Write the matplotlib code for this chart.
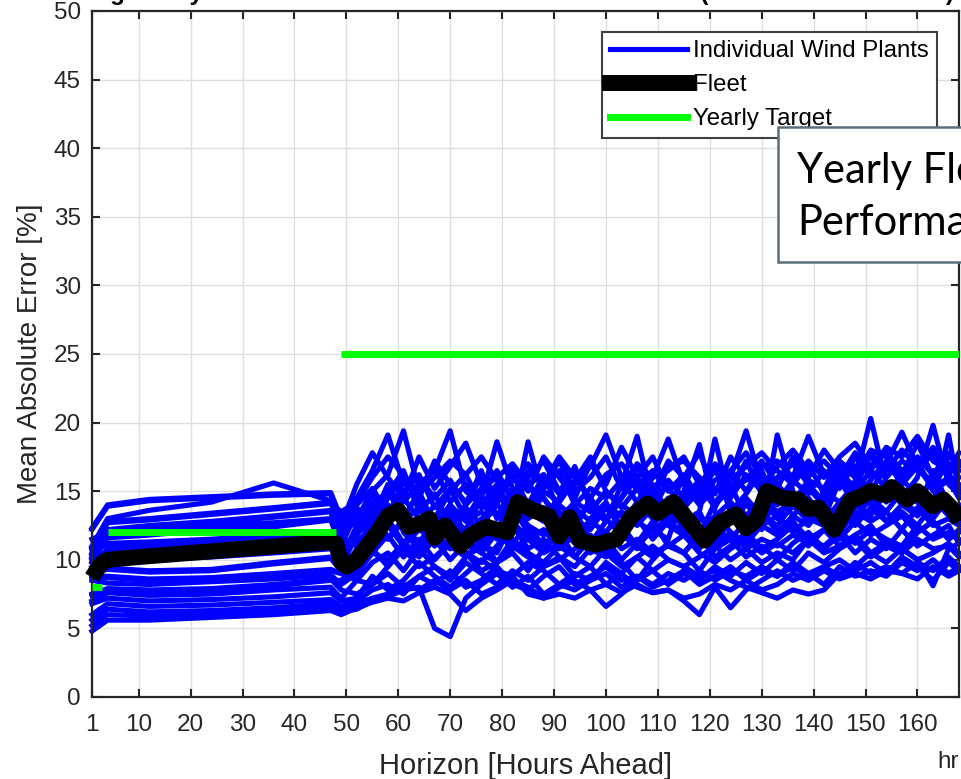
import matplotlib
matplotlib.use("Agg")
import matplotlib.pyplot as plt
from matplotlib.lines import Line2D
from matplotlib.patches import Rectangle

plt.rcParams['font.family'] = ['Liberation Sans', 'DejaVu Sans']

# forecast horizons (hours ahead) at which the plant curves were read
hours = [1, 4, 12, 24, 36, 47, 49, 52, 55, 58, 61, 64, 67, 70, 73, 76, 79, 82,
         85, 88, 91, 94, 97, 100, 103, 106, 109, 112, 115, 118, 121, 124, 127,
         130, 133, 136, 139, 142, 145, 148, 151, 154, 157, 160, 163, 166, 168]

# mean absolute error [%] per individual wind plant
plant_01 = [12.3, 14.0, 14.4, 14.6, 14.8, 14.9,
            13.0, 14.5, 16.5, 19.1, 15.5, 16.0, 14.5, 15.8, 14.0, 15.2, 16.0, 17.0, 15.5, 16.2,
            14.8, 15.5, 16.8, 19.1, 16.0, 15.2, 16.5, 15.0, 16.2, 14.5, 15.8, 16.5, 15.0, 16.8,
            17.2, 16.0, 19.0, 16.2, 15.5, 16.8, 17.5, 16.0, 17.2, 16.5, 17.8, 16.2, 15.5]
plant_02 = [11.0, 13.0, 13.6, 14.2, 15.6, 14.3,
            12.5, 13.0, 15.0, 16.2, 19.4, 15.0, 16.8, 14.2, 15.5, 13.8, 14.5, 16.2, 14.0, 15.2,
            16.5, 14.0, 15.2, 14.5, 15.8, 14.2, 16.0, 18.8, 15.5, 14.0, 15.2, 14.5, 16.2, 15.0,
            14.2, 15.8, 14.8, 16.5, 15.2, 17.5, 16.0, 17.0, 19.3, 16.8, 15.5, 17.0, 16.5]
plant_03 = [10.5, 12.8, 13.0, 13.4, 13.8, 14.2,
            12.0, 12.8, 13.5, 15.0, 14.2, 15.5, 16.5, 19.4, 15.0, 14.0, 13.2, 15.0, 13.8, 14.5,
            13.0, 14.2, 13.5, 15.0, 14.0, 13.2, 14.8, 13.5, 14.2, 15.5, 13.8, 16.0, 19.4, 15.5,
            14.5, 13.8, 15.2, 14.0, 16.0, 15.0, 16.5, 15.2, 16.0, 17.2, 15.0, 15.8, 14.5]
plant_04 = [10.2, 12.2, 12.5, 12.8, 13.2, 13.6,
            11.5, 11.0, 12.5, 14.0, 13.2, 12.5, 14.0, 13.0, 12.2, 14.5, 18.6, 15.2, 13.5, 12.8,
            14.0, 13.0, 12.2, 13.8, 12.5, 14.2, 13.0, 14.5, 12.8, 13.5, 18.8, 14.0, 13.2, 14.5,
            13.0, 14.8, 13.5, 12.8, 14.2, 15.5, 14.0, 15.2, 14.5, 16.0, 19.8, 15.5, 14.8]
plant_05 = [9.8, 11.6, 11.8, 12.2, 12.4, 12.9,
            10.8, 12.0, 13.8, 12.5, 14.5, 13.0, 12.0, 13.5, 11.8, 12.5, 14.0, 13.2, 18.6, 14.5,
            12.8, 11.5, 12.8, 12.0, 13.5, 12.8, 12.0, 13.2, 14.0, 12.2, 11.5, 12.8, 14.0, 13.0,
            19.1, 15.0, 13.2, 12.5, 13.8, 13.0, 14.5, 13.5, 15.0, 14.2, 13.0, 14.5, 13.8]
plant_06 = [10.8, 11.2, 11.3, 11.5, 11.8, 12.0,
            10.2, 11.5, 12.0, 13.8, 12.5, 11.2, 13.0, 12.0, 13.5, 11.5, 12.2, 14.0, 12.5, 11.8,
            13.2, 12.5, 11.2, 12.8, 15.5, 19.0, 14.2, 12.5, 11.8, 13.0, 12.2, 11.5, 12.8, 13.5,
            12.0, 13.2, 12.5, 14.0, 13.0, 15.8, 20.3, 15.5, 14.0, 15.0, 14.2, 13.5, 14.0]
plant_07 = [9.5, 10.8, 10.9, 11.1, 11.2, 11.6,
            10.5, 10.0, 11.2, 12.5, 11.0, 12.2, 11.5, 10.8, 12.0, 11.2, 10.5, 12.8, 11.5, 12.2,
            10.8, 11.8, 10.5, 11.2, 12.5, 11.0, 12.2, 11.5, 15.0, 18.4, 13.5, 12.0, 11.2, 12.5,
            11.8, 12.8, 11.5, 12.2, 13.5, 12.5, 13.8, 12.8, 13.5, 12.5, 14.0, 19.1, 15.0]
plant_08 = [10.0, 9.8, 10.0, 10.2, 10.5, 10.8,
            9.8, 12.2, 14.8, 13.0, 15.8, 14.2, 13.0, 15.0, 16.2, 14.0, 15.5, 13.5, 16.0, 17.2,
            15.0, 16.5, 14.2, 13.0, 14.5, 16.0, 17.5, 15.2, 13.8, 15.0, 16.5, 15.0, 17.2, 14.8,
            16.0, 17.0, 15.5, 14.2, 17.0, 16.0, 18.0, 17.5, 16.2, 18.5, 16.0, 17.5, 17.0]
plant_09 = [9.2, 9.4, 9.2, 9.3, 9.8, 10.2,
            9.5, 9.0, 10.5, 11.8, 10.2, 11.5, 10.0, 11.2, 10.5, 9.8, 11.0, 12.5, 10.8, 11.5,
            10.2, 9.5, 10.8, 11.5, 10.0, 11.2, 12.8, 11.0, 10.5, 11.8, 10.2, 11.0, 12.0, 10.8,
            11.5, 12.5, 11.0, 12.2, 11.5, 12.8, 11.8, 12.5, 13.2, 12.0, 12.8, 11.5, 12.0]
plant_10 = [8.8, 8.8, 8.6, 8.7, 9.0, 9.3,
            9.0, 8.5, 9.8, 10.5, 9.2, 10.8, 9.5, 8.8, 10.2, 11.5, 9.8, 10.5, 9.2, 10.8,
            12.0, 10.2, 9.5, 10.8, 9.8, 8.5, 10.0, 11.2, 10.5, 9.2, 10.8, 11.5, 10.2, 11.0,
            10.0, 11.2, 12.0, 10.8, 11.8, 10.5, 11.5, 10.8, 12.2, 11.0, 11.8, 12.5, 11.2]
plant_11 = [8.5, 8.3, 8.2, 8.4, 8.6, 8.9,
            8.2, 9.0, 10.5, 10.0, 11.2, 10.5, 11.8, 11.0, 10.2, 11.0, 12.0, 10.8, 11.5, 10.5,
            11.2, 12.0, 10.8, 10.2, 11.8, 11.0, 10.2, 11.2, 10.5, 11.8, 11.0, 12.0, 10.8, 11.5,
            11.0, 11.8, 11.2, 12.2, 11.0, 11.8, 12.5, 11.0, 10.5, 12.0, 12.8, 11.5, 12.2]
plant_12 = [7.5, 7.9, 7.8, 7.9, 8.2, 8.6,
            7.8, 7.5, 8.2, 9.0, 8.0, 8.8, 8.2, 9.2, 8.0, 8.5, 9.5, 8.2, 7.8, 8.8,
            9.5, 8.2, 8.8, 9.5, 8.5, 8.8, 8.0, 8.5, 9.2, 8.2, 8.8, 9.5, 8.5, 9.2,
            8.8, 9.8, 9.0, 9.5, 10.0, 9.2, 9.8, 9.0, 10.2, 9.5, 8.5, 9.8, 9.2]
plant_13 = [7.0, 7.6, 7.4, 7.5, 7.8, 8.0,
            7.2, 8.5, 8.2, 9.5, 10.8, 9.5, 10.2, 11.2, 10.5, 9.2, 9.8, 11.0, 10.2, 9.5,
            10.0, 10.8, 11.8, 10.5, 9.5, 10.2, 11.0, 10.0, 9.5, 10.2, 11.0, 10.0, 10.8, 9.8,
            10.5, 10.0, 11.5, 10.5, 11.0, 11.8, 10.5, 11.2, 10.8, 10.0, 8.1, 10.8, 11.2]
plant_14 = [6.8, 7.2, 7.0, 7.1, 7.3, 7.6,
            7.0, 7.2, 8.8, 7.8, 8.5, 9.8, 8.8, 8.0, 9.0, 10.0, 9.2, 8.8, 9.8, 9.2,
            8.2, 9.0, 8.5, 9.8, 9.0, 10.2, 9.2, 10.0, 9.5, 8.8, 9.2, 8.5, 8.0, 7.6,
            7.2, 7.8, 7.5, 7.8, 9.0, 9.5, 10.5, 9.8, 10.8, 10.0, 10.5, 11.2, 10.5]
plant_15 = [6.0, 6.8, 6.6, 6.7, 6.9, 7.1,
            6.6, 7.0, 7.8, 8.2, 7.5, 8.8, 9.5, 8.5, 9.8, 9.0, 8.2, 9.2, 8.5, 9.5,
            10.2, 8.8, 9.5, 8.2, 9.0, 8.0, 7.6, 7.8, 7.0, 6.0, 8.0, 6.5, 7.8, 8.5,
            9.2, 8.5, 9.0, 8.2, 9.5, 8.8, 9.2, 8.8, 9.8, 9.2, 10.0, 9.0, 9.5]
plant_16 = [5.6, 6.4, 6.2, 6.3, 6.5, 6.8,
            6.4, 6.8, 7.2, 7.5, 8.2, 7.8, 8.5, 7.8, 8.5, 7.5, 8.0, 8.8, 7.5, 7.2,
            7.5, 7.2, 7.8, 6.6, 7.5, 8.5, 9.2, 8.2, 9.0, 8.5, 9.5, 8.8, 9.8, 9.0,
            10.0, 9.2, 10.5, 9.8, 10.8, 11.5, 10.2, 11.0, 10.5, 11.5, 10.8, 11.0, 10.2]
plant_17 = [5.2, 6.0, 5.9, 6.0, 6.2, 6.5,
            6.2, 6.4, 7.0, 7.3, 7.8, 8.0, 5.0, 4.4, 7.2, 8.2, 9.0, 8.0, 8.8, 7.5,
            8.2, 7.8, 8.5, 9.0, 8.0, 8.8, 8.2, 9.0, 8.5, 9.2, 8.5, 9.2, 8.8, 9.5,
            8.8, 9.5, 8.8, 9.5, 8.8, 9.8, 9.0, 9.5, 9.0, 9.8, 9.2, 10.2, 9.5]
plant_18 = [4.8, 5.6, 5.6, 5.8, 6.0, 6.3,
            6.0, 6.5, 6.9, 7.2, 7.0, 7.6, 8.0, 7.5, 6.3, 7.2, 7.8, 8.5, 8.0, 7.2,
            8.0, 8.5, 7.8, 8.2, 7.6, 8.2, 7.6, 7.8, 7.2, 7.5, 8.2, 7.8, 8.5, 7.8,
            8.2, 9.0, 8.5, 9.2, 8.6, 9.0, 8.6, 9.2, 9.0, 8.6, 9.5, 8.8, 9.2]
plant_19 = [11.5, 12.0, 12.1, 12.5, 12.7, 13.0,
            12.8, 13.8, 12.5, 14.5, 16.0, 14.5, 17.2, 15.5, 14.2, 16.0, 14.8, 15.8, 17.0, 15.5,
            17.5, 16.0, 14.5, 16.2, 17.0, 15.5, 14.2, 16.8, 17.2, 16.0, 14.8, 17.5, 16.0, 15.2,
            16.8, 18.0, 16.5, 17.2, 16.0, 17.8, 16.5, 18.2, 17.5, 19.0, 17.2, 16.5, 17.8]
plant_20 = [9.0, 10.3, 10.5, 10.8, 11.3, 11.2,
            9.5, 11.8, 13.2, 11.5, 12.8, 13.8, 12.2, 14.0, 12.8, 13.5, 12.0, 14.8, 13.0, 13.8,
            12.5, 13.8, 12.8, 14.0, 13.2, 12.5, 13.8, 12.8, 13.5, 12.0, 13.2, 14.2, 13.0, 14.5,
            13.5, 14.2, 13.0, 15.0, 14.2, 14.8, 15.5, 14.2, 15.8, 14.8, 15.5, 14.2, 13.5]
plant_21 = [12.2, 13.9, 14.3, 14.5, 14.7, 14.8,
            12.5, 15.5, 17.8, 16.0, 14.5, 17.5, 15.2, 16.8, 18.5, 15.5, 14.0, 16.8, 15.0, 17.5,
            16.0, 14.5, 17.0, 15.5, 18.2, 16.0, 14.8, 17.2, 16.0, 17.8, 15.0, 16.5, 17.8, 16.0,
            15.2, 17.5, 16.0, 18.0, 16.5, 15.2, 17.8, 16.5, 18.0, 16.8, 18.2, 17.0, 16.0]
plant_22 = [10.1, 12.1, 12.4, 12.7, 13.1, 13.5,
            11.0, 13.5, 12.0, 14.8, 16.5, 13.5, 14.8, 12.5, 14.0, 16.5, 13.0, 14.5, 15.8, 13.2,
            14.5, 16.8, 13.8, 12.8, 14.5, 16.8, 15.0, 13.8, 16.0, 14.5, 16.8, 13.5, 14.8, 16.5,
            14.0, 15.5, 17.0, 14.8, 16.2, 14.5, 15.8, 17.2, 15.5, 16.8, 15.2, 16.0, 15.2]
plant_23 = [9.4, 10.7, 10.8, 11.0, 11.1, 11.5,
            10.0, 12.5, 14.2, 11.5, 13.0, 15.0, 12.5, 11.5, 13.8, 12.5, 15.2, 12.8, 14.0, 16.2,
            13.5, 12.2, 14.5, 13.0, 11.8, 13.5, 15.5, 12.5, 13.2, 11.8, 14.2, 15.5, 13.0, 12.2,
            14.8, 13.2, 14.5, 13.0, 15.8, 14.0, 13.2, 15.0, 14.2, 13.5, 16.5, 14.0, 13.0]
plant_24 = [10.7, 11.1, 11.2, 11.4, 11.7, 11.9,
            11.8, 14.0, 15.2, 13.5, 15.0, 16.2, 13.8, 15.2, 13.0, 14.8, 16.5, 14.2, 13.0, 15.0,
            14.2, 15.8, 17.5, 15.0, 13.8, 15.2, 13.5, 15.8, 14.5, 15.8, 14.0, 15.2, 15.8, 17.2,
            15.5, 14.2, 15.8, 15.2, 17.2, 16.2, 15.0, 16.8, 16.0, 17.5, 16.2, 17.8, 16.8]
plant_25 = [9.1, 9.3, 9.1, 9.2, 9.7, 10.1,
            9.2, 10.5, 11.8, 13.0, 11.2, 12.5, 11.0, 12.8, 11.5, 10.5, 12.0, 11.2, 12.5, 11.0,
            12.2, 13.5, 11.5, 10.5, 12.0, 13.0, 11.5, 12.8, 12.0, 10.8, 12.5, 13.2, 11.8, 12.5,
            13.2, 12.0, 13.0, 12.5, 12.0, 13.5, 12.8, 13.5, 12.2, 13.8, 12.5, 13.0, 12.5]
plant_26 = [8.7, 8.7, 8.5, 8.6, 8.9, 9.2,
            9.0, 10.8, 13.0, 15.5, 12.0, 10.8, 12.5, 14.0, 11.8, 13.0, 11.5, 13.8, 12.0, 10.8,
            12.5, 11.2, 13.0, 14.2, 12.0, 10.8, 12.5, 14.0, 12.2, 13.5, 11.2, 12.8, 14.5, 13.2,
            12.5, 14.0, 12.8, 13.5, 12.2, 13.8, 14.5, 12.8, 14.0, 13.2, 14.5, 13.2, 12.8]
plant_27 = [7.4, 7.8, 7.7, 7.8, 8.1, 8.5,
            8.5, 9.5, 10.8, 9.5, 11.0, 10.2, 11.5, 10.0, 11.2, 10.5, 9.8, 11.5, 10.5, 9.8,
            11.0, 10.2, 11.5, 12.0, 10.8, 11.5, 10.5, 11.0, 11.8, 10.5, 9.8, 10.8, 11.5, 10.5,
            11.2, 10.5, 11.5, 11.0, 12.0, 11.2, 12.2, 11.5, 11.0, 12.5, 11.5, 12.0, 11.5]
plant_28 = [10.4, 12.7, 12.9, 13.3, 13.7, 14.1,
            13.5, 14.2, 16.0, 17.5, 16.2, 14.8, 16.0, 17.2, 16.2, 17.5, 15.8, 14.8, 16.5, 15.5,
            17.2, 15.0, 16.0, 17.5, 15.2, 17.0, 16.0, 16.5, 17.5, 15.5, 17.0, 15.8, 16.8, 17.8,
            16.5, 15.5, 17.2, 16.0, 17.5, 18.5, 16.8, 17.8, 16.5, 17.2, 17.8, 16.2, 17.2]

plants = [plant_01, plant_02, plant_03, plant_04, plant_05, plant_06, plant_07,
          plant_08, plant_09, plant_10, plant_11, plant_12, plant_13, plant_14,
          plant_15, plant_16, plant_17, plant_18, plant_19, plant_20, plant_21,
          plant_22, plant_23, plant_24, plant_25, plant_26, plant_27, plant_28]

# fleet-wide error
fleet_hours = [1, 2, 3, 4, 10, 20, 30, 40, 47, 48, 49, 50, 52, 54, 56, 58, 60, 62,
               64, 66, 67, 69, 72, 74, 77, 81, 83, 86, 89, 91, 93, 95, 98, 102,
               105, 108, 110, 113, 116, 119, 122, 125, 127, 129, 131, 134, 137,
               139, 141, 144, 147, 149, 151, 154, 155, 158, 160, 163, 165, 167, 168]
fleet_mae = [8.7, 9.3, 9.8, 10.0, 10.2, 10.5, 10.8, 11.1, 11.3, 11.2, 9.8, 9.5,
             10.0, 11.0, 12.0, 13.2, 13.6, 12.4, 12.6, 13.0, 11.6, 12.5, 11.0,
             11.8, 12.4, 12.0, 14.2, 13.6, 13.2, 11.7, 13.1, 11.4, 11.1, 11.5,
             13.2, 14.1, 13.4, 14.2, 12.8, 11.4, 12.7, 13.3, 12.3, 12.9, 15.0,
             14.5, 14.4, 13.7, 13.8, 12.2, 14.3, 14.6, 15.0, 14.7, 15.3, 14.4,
             15.0, 13.9, 14.4, 13.6, 12.8]

# yearly targets, piecewise by horizon
target_start = [1, 4, 49]
target_end = [3, 48, 168]
target_mae = [8, 12, 25]

xticks = [1, 10, 20, 30, 40, 50, 60, 70, 80, 90, 100, 110, 120, 130, 140, 150, 160]

ink = '#262626'
fig = plt.figure(figsize=(9.61, 7.79), dpi=100)
ax = fig.add_axes([0.0957, 0.1053, 0.9022, 0.8806])

for p in plants:
    ax.plot(hours, p, color='#0000ff', lw=3.7, solid_joinstyle='round', clip_on=False, zorder=2)
ax.plot(fleet_hours, fleet_mae, color='black', lw=11.5, solid_joinstyle='round',
        solid_capstyle='butt', clip_on=False, zorder=3)
ax.hlines(target_mae, target_start, target_end, colors='#00ff00', lw=5, zorder=4)

ax.set_xlim(1, 168)
ax.set_ylim(0, 50)
ax.set_xticks(xticks)
ax.set_yticks(range(0, 51, 5))
ax.grid(True, color='#dedede', lw=1.0)
ax.set_axisbelow(True)
ax.tick_params(direction='in', length=6, width=1.5, colors=ink, labelsize=17.5,
               top=True, right=True, pad=8)
ax.tick_params(axis='x', pad=12)
for s in ax.spines.values():
    s.set_color(ink)
    s.set_linewidth(1.6)

ax.set_xlabel('Horizon [Hours Ahead]', fontsize=21, color=ink, labelpad=12)
ax.set_ylabel('Mean Absolute Error [%]', fontsize=20, color=ink, labelpad=8)

handles = [Line2D([], [], color='#0000ff', lw=3.7),
           Line2D([], [], color='black', lw=11.5),
           Line2D([], [], color='#00ff00', lw=5)]
leg = ax.legend(handles, ['Individual Wind Plants', 'Fleet', 'Yearly Target'],
                loc='upper right', bbox_to_anchor=(0.975, 0.97), fontsize=17.3,
                fancybox=False, framealpha=1, edgecolor='#404040',
                handlelength=3.2, handletextpad=0.25, labelspacing=0.5,
                borderpad=0.35, borderaxespad=0)
leg.get_frame().set_linewidth(1.5)

# title above the visible area, only descenders show
fig.text(80 / 961, 1.0, 'Avg Yearly Mean Absolute Error vs. Forecast Horizon (All Wind Plants 2019)',
         fontsize=17.5, fontweight='bold', va='baseline', ha='left')

# overlay text box, runs off the right edge
fig.add_artist(Rectangle((778 / 961, 1 - 262 / 779), 0.3, 135 / 779,
                         transform=fig.transFigure, facecolor='white',
                         edgecolor='#5b6e79', lw=1.8, zorder=5))
fig.text(797 / 961, 1 - 183 / 779, 'Yearly Fleet', family=['Lato', 'DejaVu Sans'],
         fontsize=30, va='baseline', zorder=6)
fig.text(797 / 961, 1 - 235 / 779, 'Performance', family=['Lato', 'DejaVu Sans'],
         fontsize=30, va='baseline', zorder=6)

fig.text(937 / 961, 1 - 768 / 779, 'hr', fontsize=17.5, color=ink, va='baseline')

fig.savefig('out.png', dpi=100)
